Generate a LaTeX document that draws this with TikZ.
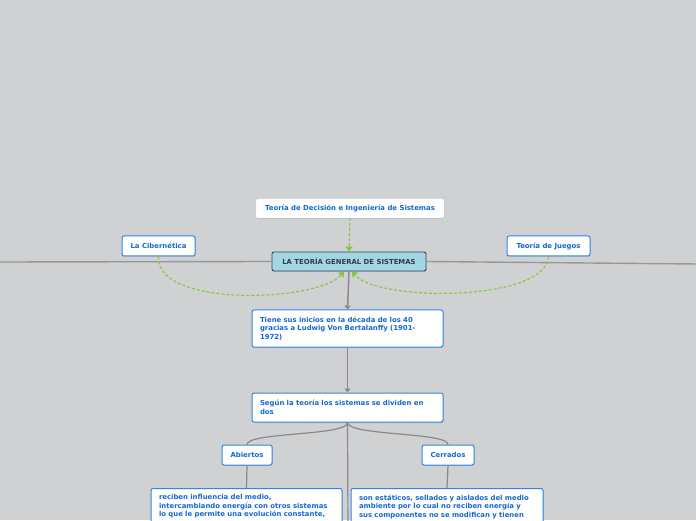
\documentclass[tikz,border=0pt]{standalone}
\usepackage{fontspec}
\setmainfont{DejaVu Sans}
\usetikzlibrary{arrows.meta,shadows}
\definecolor{bg}{HTML}{D0D1D3}
\definecolor{txtblue}{HTML}{1468D2}
\definecolor{bordblue}{HTML}{2F86E6}
\definecolor{cfill}{HTML}{A3D5E3}
\definecolor{cbord}{HTML}{34495E}
\definecolor{ctext}{HTML}{2C3E50}
\definecolor{gline}{HTML}{8A8A8A}
\definecolor{hline}{HTML}{979797}
\definecolor{green}{HTML}{8BC34A}
\tikzset{
  base/.style={font=\bfseries\fontsize{6.9}{8.6}\selectfont, rounded corners=2pt, inner sep=0pt,
    drop shadow={opacity=0.25, shadow xshift=0.6pt, shadow yshift=-1pt}},
  mainbox/.style={base, fill=cfill, draw=cbord, line width=0.9pt, text=ctext},
  leaf/.style={base, fill=white, draw=bordblue, line width=1pt, text=txtblue},
  plainbox/.style={base, fill=white, draw=white!85!gray, line width=0.4pt, text=txtblue},
  textbox/.style={leaf, align=left, inner xsep=8pt, inner ysep=6pt},
  garrow/.style={draw=gline, line width=1.5pt, -{Triangle[width=6pt,length=4pt]}},
  gline/.style={draw=gline, line width=1.2pt},
  hl/.style={draw=hline, line width=1.4pt},
  grn/.style={draw=green, line width=1.1pt, dash pattern=on 3pt off 2pt, -{Triangle[width=7pt,length=5pt,fill=green]}}
}
\begin{document}
\begin{tikzpicture}[x=1pt,y=1pt]
\useasboundingbox (0,0) rectangle (696,520);
\fill[bg] (0,0) rectangle (696,520);

\coordinate (lefte) at (0,258);
\coordinate (righte) at (696,256);
\coordinate (downe) at (348,-10);

\node[plainbox, minimum width=188pt, minimum height=19pt] (top) at (350,311.5) {Teoría de Decisión e Ingeniería de Sistemas};
\node[mainbox, minimum width=154pt, minimum height=19pt] (central) at (349,258.5) {LA TEORÍA GENERAL DE SISTEMAS};
\node[leaf, minimum width=73pt, minimum height=20pt] (ciber) at (158.5,274) {La Cibernética};
\node[leaf, minimum width=83pt, minimum height=20pt] (juegos) at (548.5,274) {Teoría de Juegos};
\node[textbox, text width=175pt, minimum height=37pt] (box1) at (347.5,191.5) {Tiene sus inicios en la década de los 40\\gracias a Ludwig Von Bertalanffy (1901-\\1972)};
\node[textbox, text width=175pt, minimum height=29pt] (box2) at (347.5,112.5) {Según la teoría los sistemas se dividen en\\dos};
\node[leaf, minimum width=50pt, minimum height=20pt] (abiertos) at (247,65) {Abiertos};
\node[leaf, minimum width=52pt, minimum height=20pt] (cerrados) at (448,65) {Cerrados};
\node[textbox, text width=175pt, anchor=north] (box3) at (246.5,32) {reciben influencia del medio,\\intercambiando energía con otros sistemas\\lo que le permite una evolución constante,};
\node[textbox, text width=176pt, anchor=north] (box4) at (447,32) {son estáticos, sellados y aislados del medio\\ambiente por lo cual no reciben energía y\\sus componentes no se modifican y tienen};

% horizontal lines
\draw[hl] (lefte) -- (central.west);
\draw[hl] (central.east) -- (righte);

% green dashed
\draw[grn] (top.south) -- (central.north);
\draw[grn] (ciber.south) .. controls (155,212) and (318,218) .. ([xshift=-5pt]central.south);
\draw[grn] (juegos.south) .. controls (546,218) and (378,218) .. ([xshift=3pt]central.south);

% gray connectors
\draw[garrow] (central.south) -- (box1.north);
\draw[garrow] (box1.south) -- (box2.north);
\draw[gline] (box2.south) .. controls (348,84) and (247,88) .. (abiertos.north);
\draw[gline] (box2.south) .. controls (348,84) and (448,88) .. (cerrados.north);
\draw[gline] (box2.south) -- (downe);
\draw[gline] (abiertos.south) -- (box3.north);
\draw[gline] (cerrados.south) -- (box4.north);
\end{tikzpicture}
\end{document}
